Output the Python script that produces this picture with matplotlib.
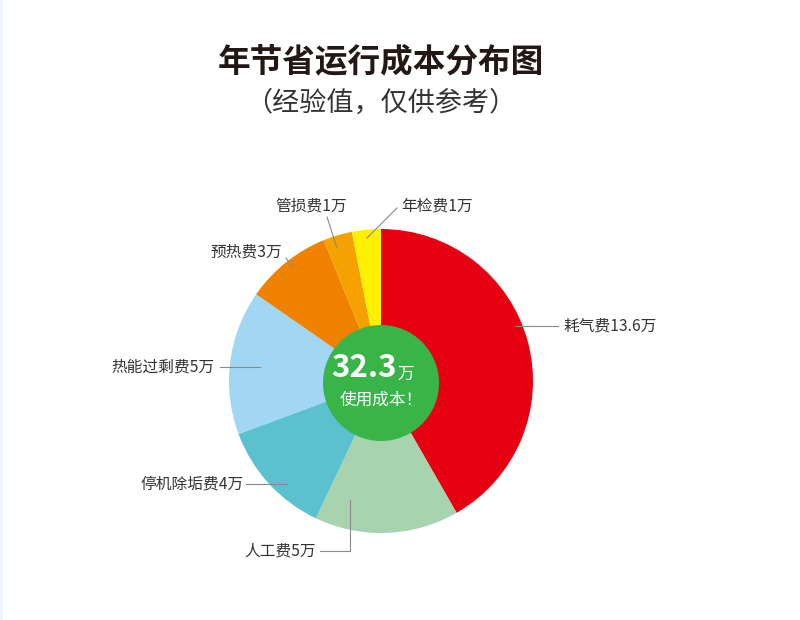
import matplotlib.pyplot as plt
from matplotlib.patches import Circle, Rectangle

plt.rcParams['font.family'] = ['Noto Sans CJK SC', 'DejaVu Sans']

# data
names = ['耗气费', '人工费', '停机除垢费', '热能过剩费', '预热费', '管损费', '年检费']
values = [13.6, 5, 4, 5, 3, 1, 1]
colors = ['#E60012', '#A7D4AE', '#5BC1CF', '#A2D7F3', '#F08200', '#F5A200', '#FFF000']
total_text = '32.3'

# label layout in pixel coords (text anchor, leader line points)
label_pos = [
    dict(xy=(563, 326), ha='left', line=[(515, 326), (558, 326)]),
    dict(xy=(316, 551), ha='right', line=[(350, 500), (350, 551), (320, 551)]),
    dict(xy=(244, 484), ha='right', line=[(287, 484), (246, 484)]),
    dict(xy=(214, 367), ha='right', line=[(260, 367), (220, 367)]),
    dict(xy=(282, 252), ha='right', line=[(292, 267), (286, 258)]),
    dict(xy=(275, 206), ha='left', line=[(337, 248), (327, 217)]),
    dict(xy=(401, 206), ha='left', line=[(367, 238), (397, 208)]),
]

W, H = 800, 620
def Y(y):
    return H - y

fig = plt.figure(figsize=(8, 6.2), dpi=100)
ax = fig.add_axes([0, 0, 1, 1])

ax.pie(values, colors=colors, startangle=90, counterclock=False,
       center=(381, Y(381)), radius=152, wedgeprops=dict(linewidth=0))
ax.set_xlim(0, W)
ax.set_ylim(0, H)
ax.set_aspect('auto')
ax.axis('off')

# faint strip at left edge
ax.add_patch(Rectangle((0, 0), 3, H, color='#EEF5FC', lw=0))

# center circle
ax.add_patch(Circle((381, Y(383)), 58, color='#38B449', lw=0, zorder=5))
ax.text(397, Y(368), total_text, color='white', fontsize=22.5, fontweight='heavy',
        ha='right', va='center', zorder=6)
ax.text(397, Y(374), '万', color='white', fontsize=12, ha='left', va='center', zorder=6)
ax.text(381, Y(400), '使用成本！', color='white', fontsize=12, ha='center', va='center', zorder=6)

# labels and leader lines
for n, v, p in zip(names, values, label_pos):
    xs = [pt[0] for pt in p['line']]
    ys = [Y(pt[1]) for pt in p['line']]
    ax.plot(xs, ys, color='#8a8a8a', lw=0.8, zorder=4)
    ax.text(p['xy'][0], Y(p['xy'][1]), f'{n}{v:g}万', fontsize=11.3, color='#333333',
            ha=p['ha'], va='center')

# titles
ax.text(381, Y(62), '年节省运行成本分布图', fontsize=23.5, fontweight='heavy',
        color='#231815', ha='center', va='center')
ax.text(381, Y(103), '（经验值，仅供参考）', fontsize=19.5, fontweight='light',
        color='#333333', ha='center', va='center')

fig.savefig('out.png', dpi=100, facecolor='white')
